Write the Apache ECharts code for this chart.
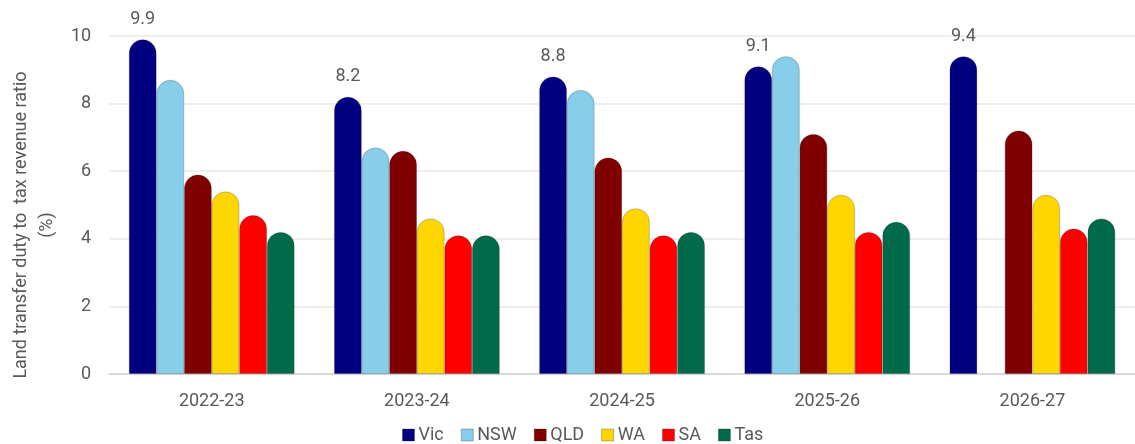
<!DOCTYPE html>
<html>
<head>
<meta charset="utf-8">
<script src="https://cdn.jsdelivr.net/npm/echarts@6/dist/echarts.min.js"></script>
<style>
  html, body { margin: 0; padding: 0; background: #ffffff; }
  #chart { width: 1135px; height: 444px; }
</style>
</head>
<body>
<div id="chart"></div>
<script>
// Financial years on the category axis
const years = ['2022-23', '2023-24', '2024-25', '2025-26', '2026-27'];

// Land transfer duty as a share of tax revenue (%), by state
const vic = [9.9, 8.2, 8.8, 9.1, 9.4];
const nsw = [8.7, 6.7, 8.4, 9.4, '-'];
const qld = [5.9, 6.6, 6.4, 7.1, 7.2];
const wa  = [5.4, 4.6, 4.9, 5.3, 5.3];
const sa  = [4.7, 4.1, 4.1, 4.2, 4.3];
const tas = [4.2, 4.1, 4.2, 4.5, 4.6];

const yTicks = [0, 2, 4, 6, 8, 10];

const stateNames = ['Vic', 'NSW', 'QLD', 'WA', 'SA', 'Tas'];
const stateValues = [vic, nsw, qld, wa, sa, tas];
const stateColors = ['#000080', '#87CEEB', '#800000', '#FFD700', '#FF0000', '#006B4B'];

const textColor = '#595959';
const fontFamily = 'Roboto, "Noto Sans", sans-serif';

const chart = echarts.init(document.getElementById('chart'));

const series = stateNames.map((name, i) => ({
  name: name,
  type: 'bar',
  data: stateValues[i],
  barWidth: 27.6,
  barGap: '0%',
  itemStyle: {
    color: stateColors[i],
    borderRadius: [14, 14, 0, 0],
    borderColor: 'rgba(0,0,0,0.22)',
    borderWidth: 0.8,
    shadowColor: 'rgba(0,0,0,0.15)',
    shadowBlur: 2
  },
  label: i === 0 ? {
    show: true,
    position: 'top',
    distance: 11,
    color: textColor,
    fontSize: 18,
    fontFamily: fontFamily,
    formatter: p => p.value.toFixed(1)
  } : { show: false },
  emphasis: { disabled: true }
}));

chart.setOption({
  animation: false,
  textStyle: { fontFamily: fontFamily },
  legend: {
    data: stateNames.map(n => ({ name: n })),
    left: 397,
    top: 421,
    itemWidth: 12,
    itemHeight: 12,
    itemGap: 17,
    icon: 'rect',
    itemStyle: { borderColor: 'rgba(0,0,0,0.25)', borderWidth: 1, borderRadius: 0, shadowBlur: 0 },
    textStyle: { color: textColor, fontSize: 18, fontFamily: fontFamily, padding: [0, 0, 0, -1] }
  },
  grid: {
    left: 106,
    top: 36,
    width: 1033,
    height: 338
  },
  xAxis: {
    type: 'category',
    data: years,
    axisLine: { show: true, lineStyle: { color: '#d4d4d4', width: 1.5 } },
    axisTick: { show: false },
    axisLabel: { color: textColor, fontSize: 18, margin: 18, fontFamily: fontFamily }
  },
  yAxis: {
    type: 'value',
    min: yTicks[0],
    max: yTicks[yTicks.length - 1],
    interval: yTicks[1] - yTicks[0],
    name: 'Land transfer duty to  tax revenue ratio\n(%)',
    nameLocation: 'middle',
    nameGap: 48,
    nameTextStyle: {
      color: textColor,
      fontSize: 18,
      lineHeight: 26,
      fontFamily: fontFamily,
      padding: [0, 40, 0, 0]
    },
    axisLine: { show: false },
    axisTick: { show: false },
    axisLabel: { color: textColor, fontSize: 18, margin: 18, fontFamily: fontFamily },
    splitLine: { lineStyle: { color: '#e8e8e8', width: 1.5 } }
  },
  series: series
});
</script>
</body>
</html>
